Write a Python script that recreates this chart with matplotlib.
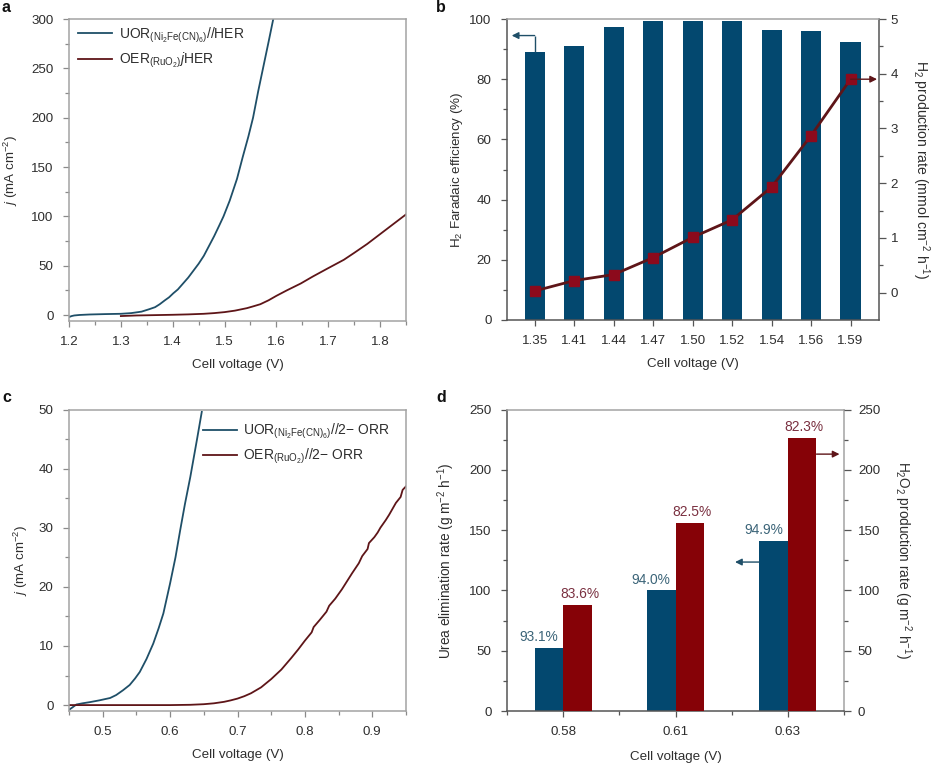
import numpy as np
import matplotlib
matplotlib.use('Agg')
import matplotlib.pyplot as plt

plt.rcParams['font.family'] = ['Liberation Sans', 'DejaVu Sans']
plt.rcParams['mathtext.fontset'] = 'custom'
plt.rcParams['mathtext.rm'] = 'Liberation Sans'
plt.rcParams['mathtext.it'] = 'Liberation Sans:italic'
plt.rcParams['mathtext.bf'] = 'Liberation Sans:bold'
plt.rcParams['mathtext.default'] = 'regular'

# Panel a
a_uor_v = [1.20, 1.205, 1.21, 1.22, 1.24, 1.27, 1.30, 1.32, 1.34, 1.355, 1.366, 1.375, 1.385, 1.393, 1.401, 1.41, 1.42, 1.43, 1.44, 1.45, 1.46, 1.47, 1.48, 1.49, 1.498, 1.51, 1.524, 1.535, 1.546, 1.555, 1.565, 1.575, 1.585, 1.594]
a_uor_j = [-2, -1, -0.4, 0.1, 0.6, 1, 1.3, 2, 3.5, 6, 8, 11, 15, 18, 22, 26, 32, 38, 45, 52, 60, 70, 80, 91, 100, 116, 138, 160, 181, 200, 227, 252, 277, 300]
a_oer_v = [1.30, 1.33, 1.37, 1.40, 1.43, 1.46, 1.48, 1.50, 1.52, 1.543, 1.555, 1.569, 1.585, 1.60, 1.62, 1.647, 1.67, 1.698, 1.73, 1.75, 1.775, 1.80, 1.82, 1.835, 1.85]
a_oer_j = [-1, -0.4, 0, 0.3, 0.7, 1.3, 2, 3, 4.5, 7, 8.8, 11, 15, 19.5, 25, 32, 39, 47, 56, 63, 72, 82, 90, 96, 102]
# Panel b
b_labels = ['1.35', '1.41', '1.44', '1.47', '1.50', '1.52', '1.54', '1.56', '1.59']
b_fe = [89, 91, 97.5, 99.5, 99.4, 99.2, 96.2, 96, 92.3]
b_rate = [0.03, 0.22, 0.33, 0.64, 1.01, 1.33, 1.93, 2.87, 3.9]
# Panel c
c_uor_v = [0.45, 0.455, 0.461, 0.47, 0.481, 0.495, 0.511, 0.52, 0.53, 0.54, 0.548, 0.555, 0.565, 0.575, 0.583, 0.59, 0.60, 0.608, 0.615, 0.622, 0.63, 0.64, 0.647]
c_uor_j = [-0.8, -0.4, 0.1, 0.3, 0.5, 0.8, 1.2, 1.7, 2.5, 3.4, 4.5, 5.6, 7.8, 10.4, 13, 15.5, 20.6, 25, 29.6, 34, 38.6, 45, 49.6]
c_oer_v = [0.45, 0.50, 0.55, 0.60, 0.63, 0.65, 0.665, 0.68, 0.69, 0.70, 0.71, 0.72, 0.735, 0.75, 0.765, 0.78, 0.79, 0.80, 0.81, 0.813, 0.822, 0.832, 0.836, 0.845, 0.855, 0.86, 0.87, 0.88, 0.885, 0.893, 0.895, 0.903, 0.908, 0.912, 0.92, 0.925, 0.93, 0.935, 0.942, 0.945, 0.95]
c_oer_j = [0, 0, 0, 0, 0.05, 0.15, 0.3, 0.55, 0.8, 1.1, 1.5, 2, 3, 4.4, 6, 8, 9.4, 10.9, 12.3, 13.2, 14.4, 15.8, 16.8, 18, 19.6, 20.5, 22.3, 24, 25.2, 26.4, 27.4, 28.4, 29.2, 30, 31.3, 32.2, 33.2, 34.2, 35.2, 36.4, 37]
# Panel d
d_labels = ['0.58', '0.61', '0.63']
d_urea = [52.5, 100, 141]
d_h2o2 = [88, 155.5, 226]
d_urea_pct = ['93.1%', '94.0%', '94.9%']
d_h2o2_pct = ['83.6%', '82.5%', '82.3%']

W, H = 932, 763
TXT = '#2e2e2e'
GREY = '#a3a3a3'
DARK = '#555555'
BLUE = '#03486f'
RED = '#860207'
LBLUE = '#1f4f68'
LRED = '#5e1518'
FS = 9.6

fig = plt.figure(figsize=(W / 100, H / 100), dpi=100, facecolor='white')


def mk(l, r, t, b, tc=DARK):
    ax = fig.add_axes([l / W, 1 - b / H, (r - l) / W, (b - t) / H])
    ax.tick_params(labelsize=FS, colors=TXT, length=4.5, width=0.9, color=tc)
    ax.tick_params(axis='x', pad=6)
    ax.tick_params(axis='y', pad=6.6)
    ax.tick_params(which='minor', length=2.8, width=0.9, color=tc)
    return ax


def sp(ax, **kw):
    for k, c in kw.items():
        ax.spines[k].set_color(c)
        ax.spines[k].set_linewidth(1.1)


def arrow(ax, pts, color):
    xs, ys = zip(*pts)
    ax.plot(xs[:-1], ys[:-1], color=color, lw=1.0, solid_capstyle='butt', clip_on=False, zorder=6)
    ax.annotate('', xy=pts[-1], xytext=pts[-2], zorder=6, annotation_clip=False,
                arrowprops=dict(arrowstyle='-|>,head_length=0.4,head_width=0.2', color=color, lw=1.0,
                                shrinkA=0, shrinkB=0))


# a
ax = mk(69, 406, 19, 321, tc='#8a8a8a')
ax.plot(a_uor_v, a_uor_j, color=LBLUE, lw=1.3)
ax.plot(a_oer_v, a_oer_j, color=LRED, lw=1.3)
ax.set_xlim(1.2, 1.85)
ax.set_ylim(-6, 300)
ax.set_xticks([1.2, 1.3, 1.4, 1.5, 1.6, 1.7, 1.8])
ax.set_xticks([1.25, 1.35, 1.45, 1.55, 1.65, 1.75, 1.85], minor=True)
ax.set_yticks([0, 50, 100, 150, 200, 250, 300])
ax.set_yticks([25, 75, 125, 175, 225, 275], minor=True)
ax.set_xlabel('Cell voltage (V)', fontsize=FS, color=TXT, labelpad=8.2)
ax.set_ylabel('$\\mathit{j}$ (mA cm$^{-2}$)', fontsize=FS, color=TXT, labelpad=8)
sp(ax, left=GREY, right=GREY, top=GREY, bottom=GREY)
ax.plot([], [], color=LBLUE, lw=1.3, label='UOR$_{(Ni_2Fe(CN)_6)}$//HER')
ax.plot([], [], color=LRED, lw=1.3, label='OER$_{(RuO_2)}$$\\mathit{j}$HER')
ax.legend(loc='upper left', bbox_to_anchor=(-0.009, 1.02), frameon=False, fontsize=FS + 0.4,
          handlelength=2.45, handletextpad=0.45, labelspacing=0.45, labelcolor=TXT, borderaxespad=0.5)

# b
ax = mk(507, 879, 19, 320)
x = np.arange(len(b_labels))
ax.bar(x, b_fe, width=0.51, color=BLUE, zorder=2)
ax.set_xlim(-0.70, 8.72)
ax.set_ylim(0, 100)
ax.set_xticks(x, b_labels)
ax.set_yticks(np.arange(0, 101, 20))
ax.set_yticks(np.arange(10, 100, 20), minor=True)
ax.set_xlabel('Cell voltage (V)', fontsize=FS, color=TXT, labelpad=8.2)
ax.set_ylabel('H$_2$ Faradaic efficiency (%)', fontsize=FS, color=TXT, labelpad=3)
sp(ax, left=DARK, right=DARK, top=GREY, bottom=DARK)
ax2 = ax.twinx()
ax2.set_ylim(-0.5, 5)
ax2.plot(x, b_rate, color=LRED, lw=2, marker='s', ms=7.5, mfc='#8c0a1c', mec='#8c0a1c', zorder=5)
ax2.set_yticks([0, 1, 2, 3, 4, 5])
ax2.set_yticks([0.5, 1.5, 2.5, 3.5, 4.5], minor=True)
ax2.tick_params(labelsize=FS, colors=TXT, length=5, width=0.9, color=DARK, pad=3.5)
ax2.tick_params(which='minor', length=3, width=0.9, color=DARK)
ax2.set_ylabel('H$_2$ production rate (mmol cm$^{-2}$ h$^{-1}$)', fontsize=10.1, color=TXT,
               rotation=270, labelpad=24)
for s in ax2.spines.values():
    s.set_visible(False)
arrow(ax, [(0, 89), (0, 94.5), (-0.58, 94.5)], LBLUE)
arrow(ax2, [(8, 3.9), (8.67, 3.9)], LRED)

# c
ax = mk(69, 406, 409.5, 711, tc='#8a8a8a')
ax.plot(c_uor_v, c_uor_j, color=LBLUE, lw=1.3)
ax.plot(c_oer_v, c_oer_j, color=LRED, lw=1.3)
ax.set_xlim(0.45, 0.95)
ax.set_ylim(-1, 50)
ax.set_xticks([0.5, 0.6, 0.7, 0.8, 0.9])
ax.set_xticks([0.45, 0.55, 0.65, 0.75, 0.85, 0.95], minor=True)
ax.set_yticks([0, 10, 20, 30, 40, 50])
ax.set_yticks([5, 15, 25, 35, 45], minor=True)
ax.set_xlabel('Cell voltage (V)', fontsize=FS, color=TXT, labelpad=8.2)
ax.set_ylabel('$\\mathit{j}$ (mA cm$^{-2}$)', fontsize=FS, color=TXT, labelpad=6)
sp(ax, left=GREY, right=GREY, top=GREY, bottom=GREY)
ax.plot([], [], color=LBLUE, lw=1.3, label='UOR$_{(Ni_2Fe(CN)_6)}$//2\u2212 ORR')
ax.plot([], [], color=LRED, lw=1.3, label='OER$_{(RuO_2)}$//2\u2212 ORR')
ax.legend(loc='upper left', bbox_to_anchor=(0.361, 1.0), frameon=False, fontsize=FS + 0.4,
          handlelength=2.45, handletextpad=0.45, labelspacing=0.4, labelcolor=TXT, borderaxespad=0.5)

# d
ax = mk(507, 844, 409.5, 711)
x = np.arange(len(d_labels))
bw = 0.255
ax.bar(x - bw / 2, d_urea, width=bw, color=BLUE, zorder=2)
ax.set_xlim(-0.5, 2.5)
ax.set_ylim(0, 250)
ax.set_xticks(x, d_labels)
ax.set_xticks([-0.5, 0.5, 1.5, 2.5], minor=True)
ax.set_yticks(np.arange(0, 251, 50))
ax.set_yticks(np.arange(25, 250, 50), minor=True)
ax.set_xlabel('Cell voltage (V)', fontsize=FS, color=TXT, labelpad=10)
ax.set_ylabel('Urea elimination rate (g m$^{-2}$ h$^{-1}$)', fontsize=FS + 0.2, color=TXT, labelpad=8.5)
sp(ax, left=DARK, right=GREY, top=GREY, bottom=DARK)
ax2 = ax.twinx()
ax2.set_ylim(0, 250)
ax2.bar(x + bw / 2, d_h2o2, width=bw, color=RED, zorder=2)
ax2.set_yticks(np.arange(0, 251, 50))
ax2.set_yticks(np.arange(25, 250, 50), minor=True)
ax2.tick_params(labelsize=FS, colors=TXT, length=5, width=0.9, color=DARK, pad=5)
ax2.tick_params(which='minor', length=3, width=0.9, color=DARK)
ax2.set_ylabel('H$_2$O$_2$ production rate (g m$^{-2}$ h$^{-1}$)', fontsize=FS + 0.2, color=TXT,
               rotation=270, labelpad=24)
for s in ax2.spines.values():
    s.set_visible(False)
for i in range(3):
    ax2.text(x[i] - bw / 2 - 0.09, d_urea[i] + 3, d_urea_pct[i], ha='center', va='bottom',
             fontsize=FS + 0.3, color='#3b6478', zorder=7)
    ax2.text(x[i] + bw / 2 + 0.02, d_h2o2[i] + 3.5, d_h2o2_pct[i], ha='center', va='bottom',
             fontsize=FS + 0.3, color='#7a3040', zorder=7)
arrow(ax2, [(2 - bw, 123.5), (1.53, 123.5)], LBLUE)
arrow(ax2, [(2 + bw, 213), (2.46, 213)], LRED)

for s, px, py in [('a', 2, 7), ('b', 436, 7), ('c', 2, 398), ('d', 436, 398)]:
    fig.text(px / W, 1 - py / H, s, fontsize=11.5, fontweight='bold', color='#111111', va='center', ha='left')

fig.savefig('out.png', dpi=100, facecolor='white')
